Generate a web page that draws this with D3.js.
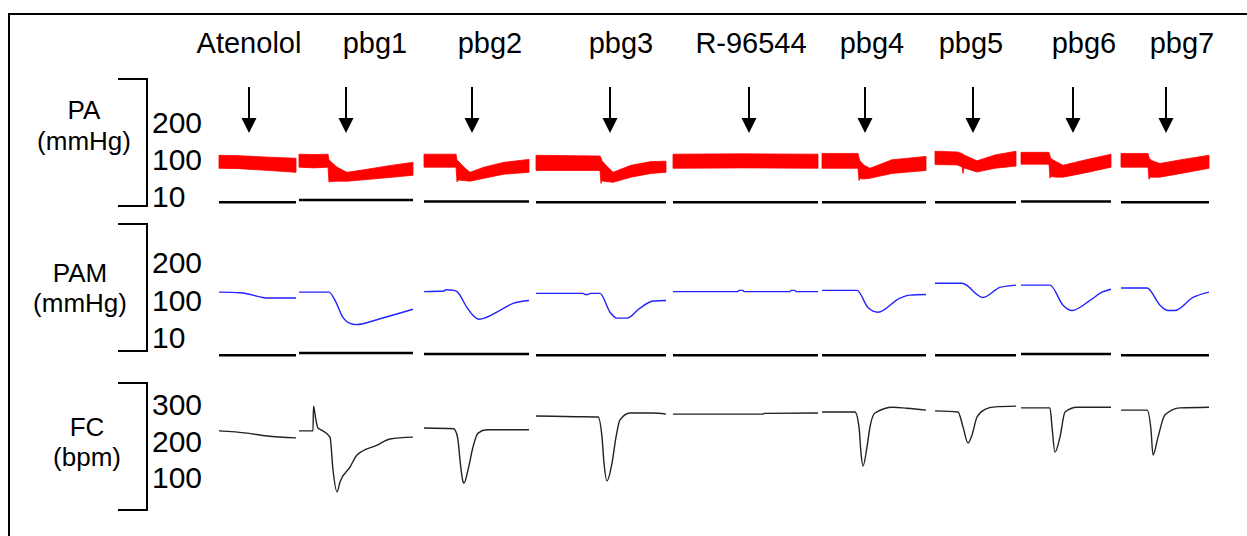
<!DOCTYPE html>
<html>
<head>
<meta charset="utf-8">
<script src="https://cdn.jsdelivr.net/npm/d3@7"></script>
<style>
  body { margin: 0; background: #fff; }
  svg { display: block; }
  text { font-family: "Liberation Sans", Arial, sans-serif; fill: #000; }
</style>
</head>
<body>
<div id="chart"></div>
<script>
// Recording segments (time in s from start of the montage)
const drugs    = ["Atenolol", "pbg1", "pbg2", "pbg3", "R-96544", "pbg4", "pbg5", "pbg6", "pbg7"];
const segStart = [0, 80, 205, 317, 454, 603, 716, 802, 902];
const segDur   = [77, 114, 105, 130, 145, 104, 81, 90, 88];
const arrowAt  = [30, 47, 48, 74, 76, 43, 38, 52, 45];   // injection time, local to segment

// zero reference of each segment (mmHg)
const paZero  = [0, 6, 2, 0, 0, 0, 0, 2, 0];
const pamZero = [0, 4, 2, 0, 0, 0, 0, 2, 0];

// PA: [t, systolic, diastolic] (mmHg)
const paTrace = [
  [[0,127,92],[20,126,91],[50,122,86],[77,119,81]],
  [[0,130,95],[15,129,93],[29,130,95],[30,114,54],[31,112,56],[38,95,57],[48,81,57],[70,90,62],[90,99,67],[114,108,73]],
  [[0,130,95],[32,130,95],[33,114,55],[34,112,60],[40,95,59],[46,81,57],[60,95,65],[80,108,76],[105,116,81]],
  [[0,127,86],[64,125,86],[65,120,51],[66,112,58],[70,100,56],[77,81,54],[95,100,68],[115,110,78],[130,111,81]],
  [[0,130,92],[70,131,93],[145,130,92]],
  [[0,132,92],[36,132,92],[37,120,59],[38,112,64],[42,100,63],[48,92,65],[70,115,78],[104,124,86]],
  [[0,138,102],[22,136,101],[27,132,96],[28,130,78],[29,128,93],[42,112,82],[60,128,92],[81,138,98]],
  [[0,135,103],[28,135,103],[29,125,65],[30,118,70],[35,110,68],[42,100,68],[65,115,80],[90,130,95]],
  [[0,132,95],[27,132,95],[28,122,62],[29,116,68],[33,110,68],[39,105,68],[60,115,78],[88,127,92]]
];

// PAM: [t, mmHg]
const pamTrace = [
  [[0,107],[21,106],[50,97],[77,97]],
  [[0,107],[30,107],[36,93],[44,64],[51,54],[57,52],[81,62],[114,78]],
  [[0,108],[20,109],[22,111],[30,110],[33,108],[43,81],[50,66],[55,61],[76,76],[89,88],[105,93]],
  [[0,105],[47,105],[49,103],[52,103],[54,105],[64,105],[74,73],[81,63],[91,63],[104,80],[117,92],[130,93]],
  [[0,108],[65,108],[66,110],[70,110],[71,108],[117,108],[118,110],[122,110],[123,108],[145,108]],
  [[0,110],[35,110],[46,81],[56,73],[78,97],[88,102],[104,103]],
  [[0,122],[27,122],[48,98],[65,115],[81,119]],
  [[0,119],[29,119],[42,85],[51,76],[69,93],[81,107],[90,112]],
  [[0,114],[26,114],[39,85],[47,76],[54,76],[72,98],[88,107]]
];

// FC: [t, bpm]
const fcTrace = [
  [[0,229],[28,223],[48,215],[77,210]],
  [[0,229],[14,229],[14.5,297],[17,258],[19,237],[22,232],[31,212],[34,122],[38,62],[41,89],[51,130],[58,163],[78,190],[91,207],[114,212]],
  [[0,237],[30,235],[31,232],[34,204],[36,149],[39,90],[40,86],[44,122],[49,185],[54,223],[63,232],[105,232]],
  [[0,270],[40,268],[62,267],[66,212],[68,141],[71,92],[76,141],[80,212],[84,259],[94,278],[117,278],[130,275]],
  [[0,275],[90,275],[91,277],[145,278]],
  [[0,281],[33,281],[37,240],[39,168],[41,133],[45,185],[48,240],[53,278],[71,294],[85,291],[104,286]],
  [[0,284],[23,281],[28,240],[33,196],[37,218],[42,267],[50,288],[60,295],[81,297]],
  [[0,292],[29,292],[31,240],[34,171],[39,212],[44,281],[56,294],[90,294]],
  [[0,286],[26,286],[30,232],[32,163],[37,212],[44,273],[59,292],[88,294]]
];

const rowNames = [["PA", "(mmHg)"], ["PAM", "(mmHg)"], ["FC", "(bpm)"]];
const rowTicks = [["200", "100", "10"], ["200", "100", "10"], ["300", "200", "100"]];

// ---- layout ----
const width = 1247, height = 536;
const rows = [
  { bracket: [79, 206], ticks: [133, 207], name: [119, 150], nameX: 84 },
  { bracket: [224, 351], ticks: [273, 348], name: [282, 312], nameX: 80 },
  { bracket: [383, 510], ticks: [415, 488], name: [436, 466], nameX: 87 }
];
const labelShift = [0, 29, 18, 11, 2, 7, -2, 11, 16];

const svg = d3.select("#chart").append("svg")
  .attr("width", width).attr("height", height);

svg.append("rect")
  .attr("x", 9).attr("y", 14)
  .attr("width", width + 20).attr("height", height + 20)
  .attr("fill", "none").attr("stroke", "#000").attr("stroke-width", 2);

const x = d3.scaleLinear().domain([0, 990]).range([219, 1209]);
const yPA = d3.scaleLinear().domain([0, 200]).range([202.3, 128.3]);
const yPAM = d3.scaleLinear().domain([0, 100]).range([355.3, 296.3]);
const yFC = d3.scaleLinear().domain([100, 300]).range([478, 405]);

const segs = drugs.map((d, i) => ({ name: d, i, t0: segStart[i], dur: segDur[i] }));

// row labels, brackets, scale labels
rows.forEach((r, k) => {
  const g = svg.append("g");
  g.append("path")
    .attr("d", `M118,${r.bracket[0]}H147V${r.bracket[1]}H118`)
    .attr("fill", "none").attr("stroke", "#000").attr("stroke-width", 2);
  const ty = d3.scalePoint().domain(rowTicks[k]).range(r.ticks);
  g.selectAll(".tick").data(rowTicks[k]).join("text")
    .attr("class", "tick")
    .attr("x", 152).attr("y", d => ty(d))
    .attr("font-size", 30).text(d => d);
  g.selectAll(".name").data(rowNames[k]).join("text")
    .attr("class", "name")
    .attr("x", r.nameX).attr("y", (d, j) => r.name[j])
    .attr("text-anchor", "middle").attr("font-size", 26).text(d => d);
});

// drug labels and arrows
const header = svg.append("g");
header.selectAll("text").data(segs).join("text")
  .attr("x", d => x(d.t0 + arrowAt[d.i]) + labelShift[d.i]).attr("y", 53)
  .attr("text-anchor", "middle").attr("font-size", 29)
  .text(d => d.name);
const arrows = header.selectAll(".arrow").data(segs).join("g")
  .attr("class", "arrow")
  .attr("transform", d => `translate(${x(d.t0 + arrowAt[d.i])},0)`);
arrows.append("line").attr("y1", 87).attr("y2", 120)
  .attr("stroke", "#000").attr("stroke-width", 2);
arrows.append("path").attr("d", "M-7.5,118H7.5L0,133Z").attr("fill", "#000");

// zero reference lines
function zeroLines(scale, zeros) {
  svg.append("g").selectAll("line").data(segs).join("line")
    .attr("x1", d => x(d.t0)).attr("x2", d => x(d.t0 + d.dur))
    .attr("y1", d => scale(zeros[d.i])).attr("y2", d => scale(zeros[d.i]))
    .attr("stroke", "#000").attr("stroke-width", 2.5);
}
zeroLines(yPA, paZero);
zeroLines(yPAM, pamZero);

// PA pulsatile band
svg.append("g").selectAll("path").data(segs).join("path")
  .attr("d", d => d3.area()
    .x(p => x(d.t0 + p[0]))
    .y0(p => yPA(p[2]))
    .y1(p => yPA(p[1]))(paTrace[d.i]))
  .attr("fill", "#ff0000").attr("stroke", "#ff0000").attr("stroke-width", 0.8);

// PAM
svg.append("g").selectAll("path").data(segs).join("path")
  .attr("d", d => d3.line()
    .x(p => x(d.t0 + p[0]))
    .y(p => yPAM(p[1]))
    .curve(d3.curveMonotoneX)(pamTrace[d.i]))
  .attr("fill", "none").attr("stroke", "#2323ff").attr("stroke-width", 1.4);

// FC
svg.append("g").selectAll("path").data(segs).join("path")
  .attr("d", d => d3.line()
    .x(p => x(d.t0 + p[0]))
    .y(p => yFC(p[1]))
    .curve(d3.curveMonotoneX)(fcTrace[d.i]))
  .attr("fill", "none").attr("stroke", "#222").attr("stroke-width", 1.4);
</script>
</body>
</html>
